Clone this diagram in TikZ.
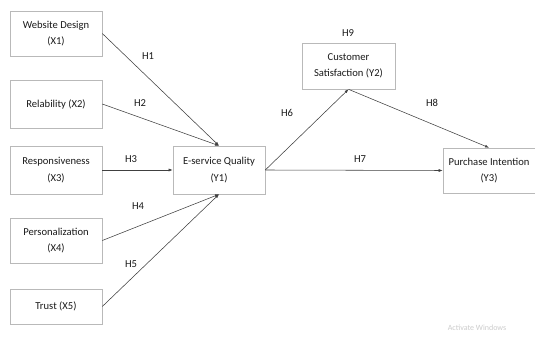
\documentclass[tikz,border=0pt]{standalone}
\usepackage{fontspec}
\setmainfont{Carlito}
\usetikzlibrary{arrows.meta}
\begin{document}
\begin{tikzpicture}[x=1pt,y=-1pt,
  box/.style={draw=gray!55,line width=0.6pt,rectangle,align=center,minimum width=92pt,inner sep=2pt,font=\fontsize{10.6}{16.5}\selectfont,text=black!90},
  conn/.style={draw=black!75,line width=0.55pt,-{Latex[length=4pt,width=3pt]}},
  lab/.style={font=\fontsize{10.6}{12}\selectfont,text=black!90}]
\useasboundingbox (0,0) rectangle (535,347);
\node[box,minimum height=45pt] (x1) at (56,33.5) {Website Design\\(X1)};
\node[box,minimum height=48pt] (x2) at (56,104) {Relability (X2)};
\node[box,minimum height=48pt] (x3) at (56,170) {Responsiveness\\(X3)};
\node[box,minimum height=45pt] (x4) at (56,240.5) {Personalization\\(X4)};
\node[box,minimum height=35pt] (x5) at (56,306.5) {Trust (X5)};
\node[box,minimum height=48pt] (y1) at (219,170) {E-service Quality\\(Y1)};
\node[box,minimum width=93pt,minimum height=46pt] (y2) at (348.5,66) {Customer\\Satisfaction (Y2)};
\node[box,minimum height=45pt] (y3) at (489,170.5) {Purchase Intention\\(Y3)};
\draw[conn] (x1.east) -- (y1.north);
\draw[conn] (x2.east) -- (y1.north);
\draw[conn] (x3.east) -- (y1.west);
\draw[conn] (x4.east) -- (y1.south);
\draw[conn] (x5.east) -- (y1.south);
\draw[conn] (y1.east) -- (y2.south);
\draw[conn] (y1.east) -- (y3.west);
\draw[conn] (y2.south) -- (y3.north);
\node[lab] (h1) at (148,56) {H1};
\node[lab] (h2) at (140,103) {H2};
\node[lab] (h3) at (131,159) {H3};
\node[lab] (h4) at (138,206) {H4};
\node[lab] (h5) at (131,264) {H5};
\node[lab] (h6) at (287,113) {H6};
\node[lab] (h7) at (360,159) {H7};
\node[lab] (h8) at (432,103) {H8};
\node[lab] (h9) at (348,33) {H9};
\node[font=\fontsize{8}{10}\selectfont,text=gray!40] (aw) at (477,328) {Activate Windows};
\end{tikzpicture}
\end{document}
